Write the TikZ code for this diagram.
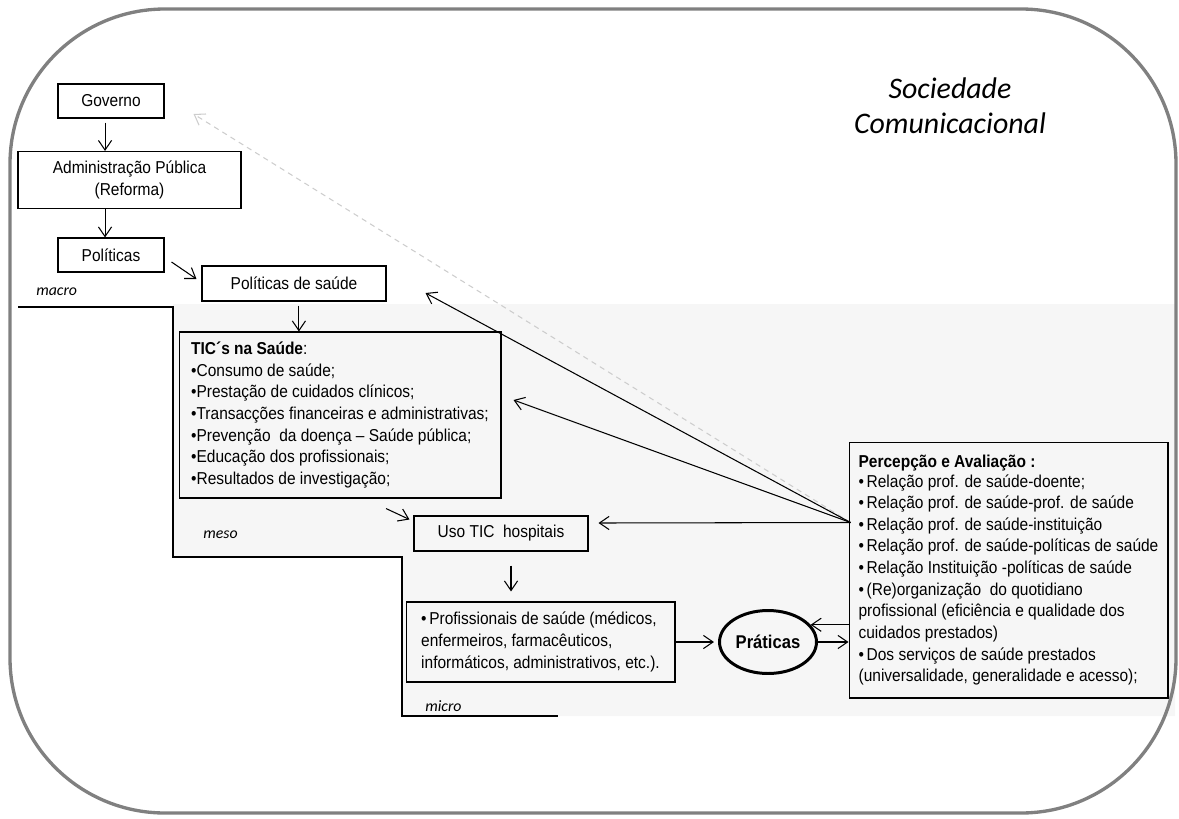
\documentclass[tikz,border=0pt]{standalone}
\usepackage{fontspec}
\setmainfont{Liberation Sans}[FakeStretch=0.9]
\newfontfamily\calib{Carlito}
\usepackage{tikz}
\usetikzlibrary{
  shapes.geometric,
  arrows.meta,
  positioning, calc
}
\definecolor{framegray}{RGB}{128,128,128}
\definecolor{zonegray}{RGB}{246,246,246}
\definecolor{dashgray}{RGB}{205,205,205}
\newcommand{\fs}{\fontsize{9.8pt}{12.3pt}\selectfont}
\tikzset{
  basebox/.style={rectangle,draw=black,line width=0.6pt,align=center,font=\fs,inner sep=0pt},
  listbox/.style={basebox,align=left},
  pracnode/.style={ellipse,draw=black,line width=1.7pt,minimum width=1.94cm,minimum height=1.26cm,
                   inner sep=0pt,font=\fontsize{10.5pt}{12pt}\selectfont\bfseries},
  lvllabel/.style={anchor=west,inner sep=0pt,font=\calib\itshape\fontsize{9pt}{11pt}\selectfont},
  soclabel/.style={align=center,inner sep=0pt,font=\calib\itshape\fontsize{17pt}{20pt}\selectfont},
  arr/.style={-{Straight Barb[length=5.5pt,width=7.5pt]},line width=0.6pt},
  dasharr/.style={arr,dash pattern=on 3pt off 2.5pt,color=dashgray},
  frameline/.style={draw=framegray,line width=1.9pt,rounded corners=3.1cm}
}

\begin{document}
\begin{tikzpicture}[x=0.02cm,y=-0.02cm]
  \useasboundingbox (0,0) rectangle (1179,818);
  \fill[zonegray] (173,304) -- (1175,304) -- (1175,716) -- (402,716) -- (402,557) -- (173,557) -- cycle;
  \draw[frameline] (10,9) rectangle (1176,813);
  \draw[line width=0.7pt] (18,307) -- (173,307) -- (173,557) -- (402,557) -- (402,716) -- (558,716);

  \node[soclabel] (soc) at (950,106) {Sociedade\\Comunicacional};
  \node[lvllabel] (lblmacro) at (36,292) {macro};
  \node[lvllabel] (lblmeso) at (203,535) {meso};
  \node[lvllabel] (lblmicro) at (425,706) {micro};

  \node[basebox,minimum width=2.12cm,minimum height=0.68cm] (gov) at (111,101) {Governo};
  \node[basebox,minimum width=4.46cm,minimum height=1.14cm] (adm) at (129.5,180)
      {Administração Pública\\(Reforma)};
  \node[basebox,minimum width=2.12cm,minimum height=0.68cm] (pol) at (111,255) {Políticas};
  \node[basebox,minimum width=3.68cm,minimum height=0.70cm] (polsaude) at (294,283.5) {Políticas de saúde};
  \node[listbox,minimum width=6.44cm,minimum height=3.32cm] (tic) at (340,415)
      {\textbf{TIC´s na Saúde}:\\
       •Consumo de saúde;\\
       •Prestação de cuidados clínicos;\\
       •Transacções financeiras e administrativas;\\
       •Prevenção\ \ da doença – Saúde pública;\\
       •Educação dos profissionais;\\
       •Resultados de investigação;};
  \node[basebox,minimum width=3.48cm,minimum height=0.70cm] (uso) at (501,533.5) {Uso TIC\ \ hospitais};
  \node[listbox,minimum width=5.38cm,minimum height=1.6cm] (prof) at (540.5,642)
      {•\kern1.5pt Profissionais de saúde (médicos,\\
       enfermeiros, farmacêuticos,\\
       informáticos, administrativos, etc.).};
  \node[pracnode] (prat) at (768,642) {Práticas};
  \node[listbox,minimum width=6.38cm,minimum height=5.12cm] (percep) at (1008.5,570)
      {\textbf{Percepção e Avaliação :}\\[-1pt]
       •\kern1.5pt Relação prof. de saúde-doente;\\
       •\kern1.5pt Relação prof. de saúde-prof. de saúde\\
       •\kern1.5pt Relação prof. de saúde-instituição\\
       •\kern1.5pt Relação prof. de saúde-políticas de saúde\\
       •\kern1.5pt Relação Instituição -políticas de saúde\\
       •\kern1.5pt (Re)organização\ \ do quotidiano\\
       profissional (eficiência e qualidade dos\\
       cuidados prestados)\\
       •\kern1.5pt Dos serviços de saúde prestados\\
       (universalidade, generalidade e acesso);};

  \draw[arr,shorten <=2.3pt] ([xshift=-3.4pt]gov.south) -- ([xshift=-3.4pt]gov.south |- adm.north);
  \draw[arr] ([xshift=-3.4pt]pol.north |- adm.south) -- ([xshift=-3.4pt]pol.north);
  \draw[arr] ($(pol.east)+(7,7)$) -- ($(polsaude.west)+(-5,-4.5)$);
  \draw[arr,shorten <=2.3pt] ([xshift=2.8pt]polsaude.south) -- ([xshift=2.8pt]polsaude.south |- tic.north);
  \draw[arr] ($(tic.south)+(46,10)$) -- ($(uso.west)+(-4,-14)$);
  \draw[arr,shorten <=8pt,shorten >=5.7pt] ([xshift=5.7pt]uso.south) -- ([xshift=5.7pt]uso.south |- prof.north);
  \draw[arr,shorten >=2.3pt] (prof.east) -- (prat.west);
  \draw[arr] (prat.east) -- (prat.east -| percep.west);
  \draw[arr] (prat.22 -| percep.west) -- (prat.22);

  \coordinate (src) at ($(percep.north west)+(2,81)$);
  \draw[dasharr] (src) -- ($(gov.east)+(29,13)$);
  \draw[arr] (src) -- ($(polsaude.east)+(39,9.5)$);
  \draw[arr] (src) -- ($(tic.east)+(12,-15)$);
  \draw[arr] (src) -- ($(uso.east)+(10,-10.5)$);
\end{tikzpicture}
\end{document}
